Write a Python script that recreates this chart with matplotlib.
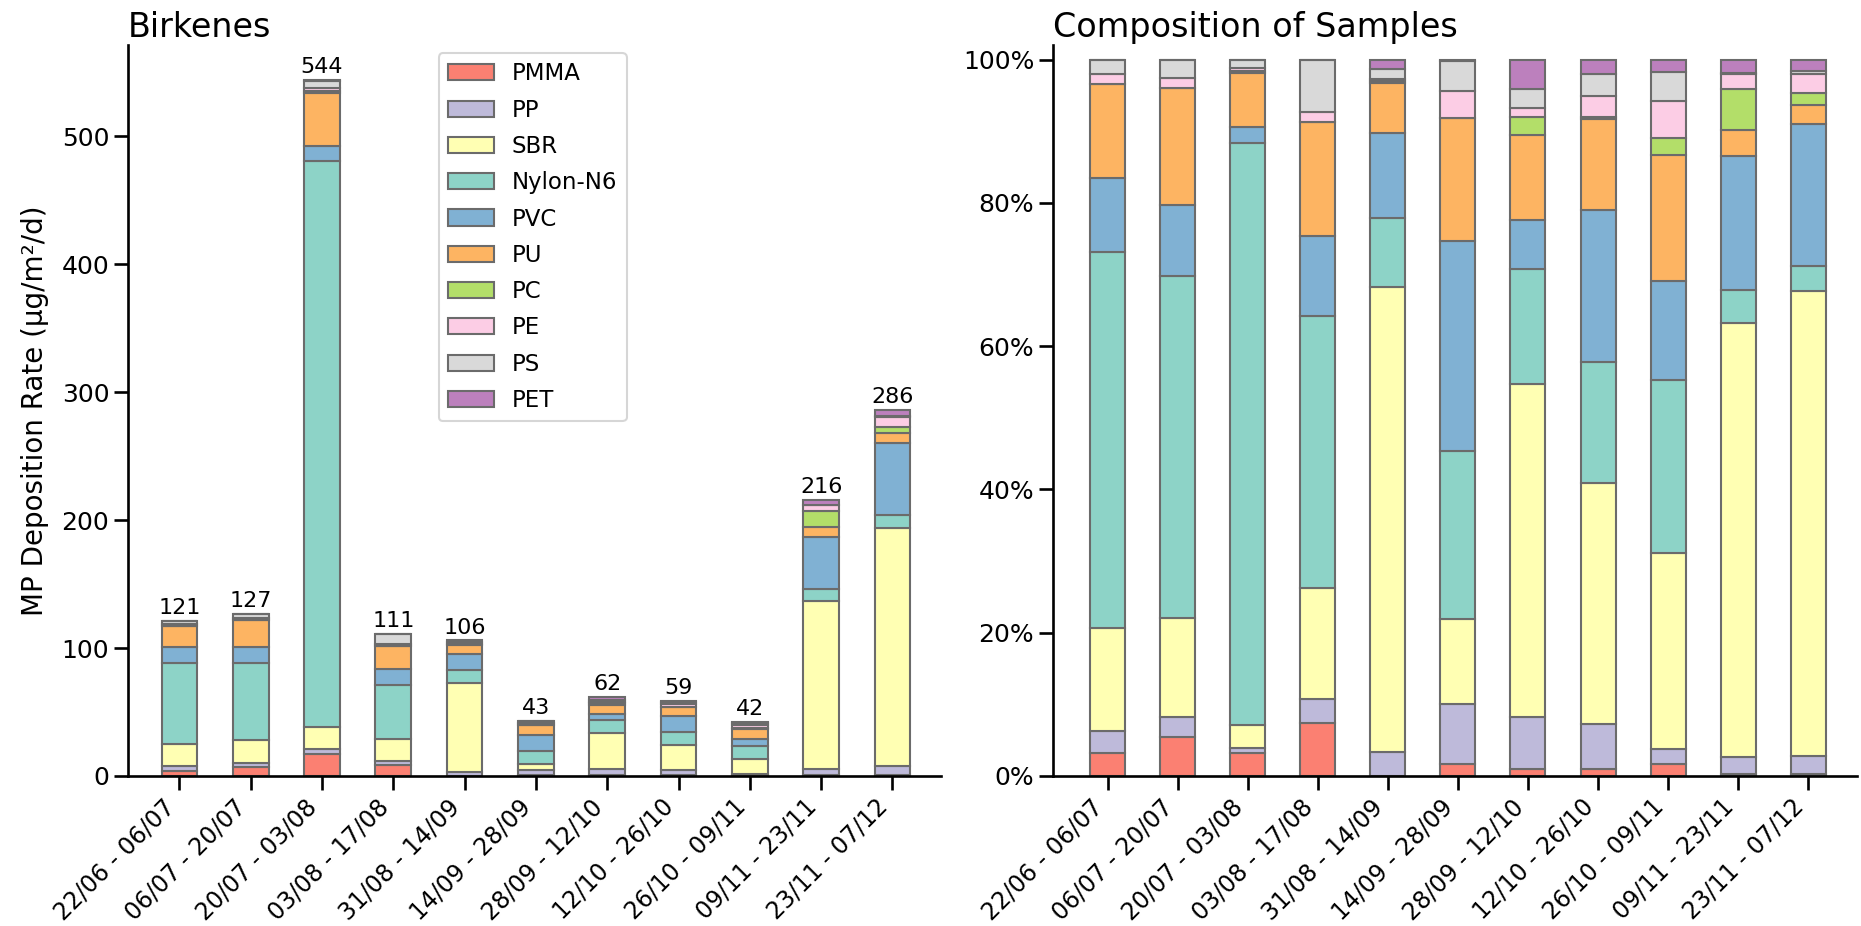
"""Birkenes microplastic deposition: absolute rates and sample composition."""

import matplotlib.pyplot as plt
import numpy as np
import seaborn as sns
from matplotlib.ticker import PercentFormatter

# ---- data ----
periods = [
    "22/06 - 06/07", "06/07 - 20/07", "20/07 - 03/08", "03/08 - 17/08",
    "31/08 - 14/09", "14/09 - 28/09", "28/09 - 12/10", "12/10 - 26/10",
    "26/10 - 09/11", "09/11 - 23/11", "23/11 - 07/12",
]
polymers = ["PMMA", "PP", "SBR", "Nylon-N6", "PVC", "PU", "PC", "PE", "PS", "PET"]

# deposition rate per polymer, µg/m²/d
pmma = [3.9, 6.9, 17.4, 8.2, 0.0, 0.7, 0.6, 0.6, 0.7, 0.6, 0.9]
pp = [3.7, 3.6, 3.8, 3.7, 3.5, 3.6, 4.5, 3.7, 0.9, 5.2, 6.9]
sbr = [17.4, 17.5, 17.4, 17.3, 68.9, 5.1, 28.8, 19.8, 11.5, 130.8, 185.9]
nylon = [63.5, 60.6, 442.3, 42.1, 10.2, 10.1, 10.0, 10.0, 10.1, 9.9, 10.0]
pvc = [12.5, 12.6, 12.0, 12.4, 12.5, 12.6, 4.2, 12.5, 5.8, 40.6, 56.6]
pu = [15.9, 20.8, 41.3, 17.6, 7.4, 7.4, 7.4, 7.5, 7.4, 7.6, 7.7]
pc = [0.0, 0.0, 1.5, 0.0, 0.3, 0.0, 1.5, 0.2, 1.0, 12.5, 4.9]
pe = [1.6, 1.7, 2.0, 1.6, 0.3, 1.6, 0.8, 1.7, 2.2, 4.5, 7.4]
ps = [2.5, 3.3, 6.0, 8.1, 1.5, 1.8, 1.7, 1.8, 1.7, 0.4, 1.1]
pet = [0.0, 0.0, 0.3, 0.0, 1.4, 0.1, 2.5, 1.2, 0.7, 3.9, 4.6]

colors = ["#fb8072", "#bebada", "#ffffb3", "#8dd3c7", "#80b1d3",
          "#fdb462", "#b3de69", "#fccde5", "#d9d9d9", "#bc80bd"]

EDGE = "#6b6b6b"


def stacked(ax, table, width=0.5):
    x = np.arange(table.shape[1])
    bottom = np.zeros(table.shape[1])
    bars = None
    for name, row, col in zip(polymers, table, colors):
        bars = ax.bar(x, row, width, bottom=bottom, color=col, edgecolor=EDGE,
                      linewidth=1.5, label=name)
        bottom += row
    return x, bars


sns.set_theme(style="ticks", context="talk")
plt.rcParams["font.family"] = ["DejaVu Sans"]
plt.rcParams.update({
    "text.color": "black",
    "axes.labelcolor": "black",
    "axes.edgecolor": "black",
    "xtick.color": "black",
    "ytick.color": "black",
    "axes.linewidth": 1.9,
    "xtick.major.width": 1.9,
    "ytick.major.width": 1.9,
    "xtick.major.size": 10,
    "ytick.major.size": 10,
})

rates = np.array([pmma, pp, sbr, nylon, pvc, pu, pc, pe, ps, pet])
totals = rates.sum(axis=0)
shares = rates / totals * 100

fig = plt.figure(figsize=(18.61, 9.26), dpi=100)
ax1 = fig.add_axes([0.0688, 0.162, 0.4368, 0.789])
ax2 = fig.add_axes([0.5658, 0.162, 0.4322, 0.789])

# ---- left: absolute deposition ----
x, top_bars = stacked(ax1, rates)
ax1.bar_label(top_bars, labels=[f"{t:.0f}" for t in totals], padding=2, fontsize=16)
ax1.set_xlim(-0.72, 10.68)
ax1.set_ylim(0, totals.max() * 1.05)
ax1.set_yticks(np.arange(0, 600, 100))
ax1.set_ylabel("MP Deposition Rate (µg/m²/d)", fontsize=20, labelpad=9)
ax1.set_title("Birkenes", loc="left", fontsize=24, pad=6)
ax1.legend(loc="upper left", bbox_to_anchor=(0.368, 1.005), fontsize=16.5,
           labelspacing=0.58, frameon=True)

# ---- right: percent composition ----
stacked(ax2, shares)
ax2.set_xlim(-0.78, 10.7)
ax2.set_ylim(0, 102)
ax2.set_yticks(np.arange(0, 101, 20))
ax2.yaxis.set_major_formatter(PercentFormatter(decimals=0))
ax2.set_title("Composition of Samples", loc="left", fontsize=24, pad=6)

for ax in (ax1, ax2):
    ax.set_xticks(x)
    ax.set_xticklabels(periods, rotation=45, ha="right", fontsize=17)
    ax.tick_params(axis="y", labelsize=18)
    sns.despine(ax=ax)

fig.savefig("out.png", dpi=100)
